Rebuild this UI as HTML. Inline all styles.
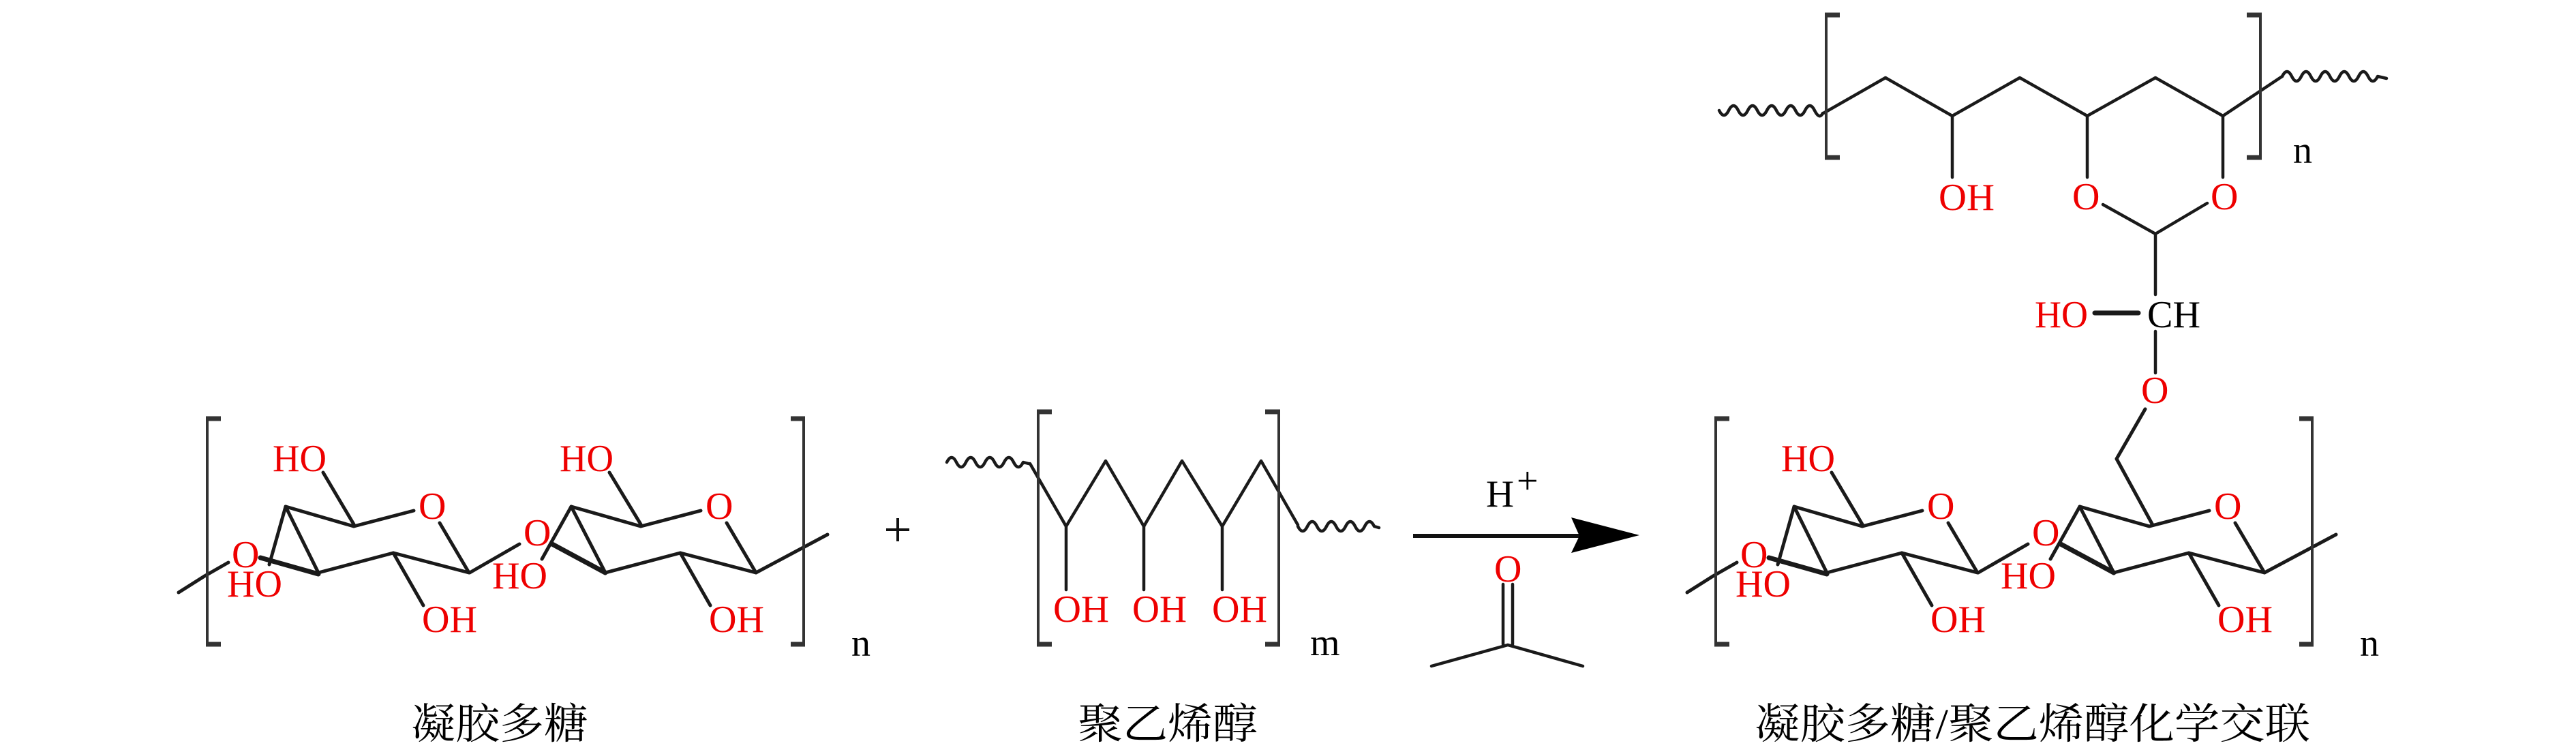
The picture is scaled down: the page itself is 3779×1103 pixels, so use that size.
<!DOCTYPE html>
<html><head><meta charset="utf-8"><style>
html,body{margin:0;padding:0;background:#fff;}
svg{display:block;}
.r{fill:#ee0000;font-family:"Liberation Serif",serif;font-size:56px;}
.k{fill:#000;font-family:"Liberation Serif",serif;font-size:56px;}
.c{fill:#000;font-family:"Liberation Serif","Noto Serif CJK SC",serif;font-size:62px;}
</style></head><body>
<svg width="3779" height="1103" viewBox="0 0 3779 1103" xmlns="http://www.w3.org/2000/svg">
<defs>
<g id="sugar">
 <g stroke="#1a1a1a" stroke-width="5" fill="none" stroke-linecap="round" stroke-linejoin="round">
  <!-- ring 1 -->
  <polyline points="419,743 519,772 607,749"/>
  <polyline points="645,767 688,840 577,811 467,840 419,743 395,828"/>
  <line x1="382" y1="818" x2="467" y2="842" stroke-width="7"/>
  <line x1="474" y1="693" x2="519" y2="769"/>
  <line x1="577" y1="811" x2="621" y2="888"/>
  <line x1="300" y1="845" x2="335" y2="825"/>
  <line x1="262" y1="869" x2="300" y2="845"/>
  <!-- glycosidic -->
  <line x1="689" y1="840" x2="762" y2="798"/>
  <!-- ring 2 -->
  <polyline points="838,743 940,772 1028,749"/>
  <polyline points="1066,767 1109,840 998,811 888,840 838,743 795,820"/>
  <line x1="810" y1="798" x2="888" y2="840" stroke-width="7"/>
  <line x1="998" y1="811" x2="1042" y2="888"/>
  <line x1="1109" y1="840" x2="1214" y2="784"/>
 </g>
 <g stroke="#333" fill="none">
  <line x1="304" y1="613" x2="304" y2="946" stroke-width="4"/>
  <line x1="302" y1="614" x2="324" y2="614" stroke-width="7"/>
  <line x1="302" y1="945" x2="324" y2="945" stroke-width="7"/>
  <line x1="1179" y1="613" x2="1179" y2="946" stroke-width="4"/>
  <line x1="1160" y1="614" x2="1181" y2="614" stroke-width="7"/>
  <line x1="1160" y1="945" x2="1181" y2="945" stroke-width="7"/>
 </g>
 <text class="r" x="400" y="691" textLength="79" lengthAdjust="spacingAndGlyphs">HO</text>
 <text class="r" x="614" y="761">O</text>
 <text class="r" x="340" y="832">O</text>
 <text class="r" x="333" y="875" textLength="81" lengthAdjust="spacingAndGlyphs">HO</text>
 <text class="r" x="619" y="927" textLength="81" lengthAdjust="spacingAndGlyphs">OH</text>
 <text class="r" x="768" y="800">O</text>
 <text class="r" x="722" y="863" textLength="81" lengthAdjust="spacingAndGlyphs">HO</text>
 <text class="r" x="1035" y="761">O</text>
 <text class="r" x="1040" y="927" textLength="81" lengthAdjust="spacingAndGlyphs">OH</text>
 <text class="k" x="1249" y="962" font-size="48">n</text>
</g>
</defs>

<!-- left: 凝胶多糖 -->
<use href="#sugar"/>
<line x1="400" y1="0" x2="400" y2="0"/>
<g stroke="#1a1a1a" stroke-width="5" fill="none" stroke-linecap="round"><line x1="894" y1="693" x2="940" y2="769"/></g>
<text class="r" x="821" y="691" textLength="79" lengthAdjust="spacingAndGlyphs">HO</text>
<text class="c" x="603" y="1083" textLength="260" lengthAdjust="spacingAndGlyphs">凝胶多糖</text>

<!-- plus -->
<g stroke="#111" stroke-width="4"><line x1="1300" y1="777" x2="1334" y2="777"/><line x1="1317" y1="760" x2="1317" y2="794"/></g>

<!-- PVA -->
<g stroke="#1a1a1a" stroke-width="4.5" fill="none" stroke-linejoin="round" stroke-linecap="round">
 <path d="M1389 678 q7 -14 14 0 t14 0 t14 0 t14 0 t14 0 t14 0 t14 0 t14 0 l8 2"/>
 <polyline points="1511,680 1564,772 1622,676 1678,772 1734,676 1793,772 1850,676 1904,770"/>
 <path d="M1904 772 q7 14 14 0 t14 0 t14 0 t14 0 t14 0 t14 0 t14 0 t14 0 l7 2"/>
 <line x1="1564" y1="772" x2="1564" y2="865"/>
 <line x1="1678" y1="772" x2="1678" y2="865"/>
 <line x1="1793" y1="772" x2="1793" y2="865"/>
</g>
<g stroke="#333" fill="none">
 <line x1="1523" y1="603" x2="1523" y2="946" stroke-width="4"/>
 <line x1="1521" y1="604" x2="1543" y2="604" stroke-width="7"/>
 <line x1="1521" y1="945" x2="1543" y2="945" stroke-width="7"/>
 <line x1="1876" y1="603" x2="1876" y2="946" stroke-width="4"/>
 <line x1="1856" y1="604" x2="1878" y2="604" stroke-width="7"/>
 <line x1="1856" y1="945" x2="1878" y2="945" stroke-width="7"/>
</g>
<text class="r" x="1545" y="912" textLength="82" lengthAdjust="spacingAndGlyphs">OH</text>
<text class="r" x="1661" y="912" textLength="80" lengthAdjust="spacingAndGlyphs">OH</text>
<text class="r" x="1778" y="912" textLength="81" lengthAdjust="spacingAndGlyphs">OH</text>
<text class="k" x="1922" y="961" font-size="50">m</text>
<text class="c" x="1581" y="1083" textLength="264" lengthAdjust="spacingAndGlyphs">聚乙烯醇</text>

<!-- arrow -->
<line x1="2073" y1="786" x2="2318" y2="786" stroke="#111" stroke-width="6"/>
<polygon points="2305,759 2405,785 2305,811 2317,786" fill="#000"/>
<text class="k" x="2180" y="743" textLength="41" lengthAdjust="spacingAndGlyphs">H</text>
<text class="k" x="2225" y="724" font-size="26">+</text>
<text class="r" x="2192" y="853">O</text>
<g stroke="#1a1a1a" stroke-width="4.5" fill="none" stroke-linecap="round">
 <line x1="2205" y1="857" x2="2205" y2="945"/>
 <line x1="2219" y1="857" x2="2219" y2="945"/>
 <polyline points="2100,977 2212,946 2322,977"/>
</g>

<!-- right: crosslinked -->
<g transform="translate(2213,0)"><use href="#sugar"/></g>
<g stroke="#1a1a1a" stroke-width="5" fill="none" stroke-linejoin="round" stroke-linecap="round">
 <polyline points="3158,770 3105,673 3147,600"/>
</g>
<text class="r" x="3141" y="591">O</text>
<!-- top PVA acetal -->
<g stroke="#1a1a1a" stroke-width="4.5" fill="none" stroke-linejoin="round" stroke-linecap="round">
 <path d="M2522 162 q7 14 14 0 t14 0 t14 0 t14 0 t14 0 t14 0 t14 0 t14 0 t14 0 t14 0 t12 4"/>
 <polyline points="2675,166 2766,114 2864,170 2963,114 3062,170 3162,114 3261,170 3348,112"/>
 <path d="M3348 112 q7 -14 14 0 t14 0 t14 0 t14 0 t14 0 t14 0 t14 0 t14 0 t14 0 t14 0 l13 3"/>
 <line x1="2864" y1="170" x2="2864" y2="260"/>
 <line x1="3062" y1="170" x2="3062" y2="260"/>
 <line x1="3261" y1="170" x2="3261" y2="260"/>
 <polyline points="3085,300 3162,343 3238,298"/>
 <line x1="3162" y1="343" x2="3162" y2="432"/>
 <line x1="3073" y1="459" x2="3137" y2="459" stroke-width="7"/>
 <line x1="3162" y1="486" x2="3162" y2="547"/>
</g>
<g stroke="#333" fill="none">
 <line x1="2679" y1="21" x2="2679" y2="232" stroke-width="4"/>
 <line x1="2677" y1="22" x2="2699" y2="22" stroke-width="7"/>
 <line x1="2677" y1="231" x2="2699" y2="231" stroke-width="7"/>
 <line x1="3316" y1="21" x2="3316" y2="232" stroke-width="4"/>
 <line x1="3296" y1="22" x2="3318" y2="22" stroke-width="7"/>
 <line x1="3296" y1="231" x2="3318" y2="231" stroke-width="7"/>
</g>
<text class="k" x="3364" y="239" font-size="48">n</text>
<text class="r" x="2844" y="308" textLength="82" lengthAdjust="spacingAndGlyphs">OH</text>
<text class="r" x="3040" y="307">O</text>
<text class="r" x="3243" y="307">O</text>
<text class="r" x="2985" y="480" textLength="78" lengthAdjust="spacingAndGlyphs">HO</text>
<text class="k" x="3150" y="480" textLength="78" lengthAdjust="spacingAndGlyphs">CH</text>
<text class="c" x="2574" y="1083" textLength="815" lengthAdjust="spacingAndGlyphs">凝胶多糖/聚乙烯醇化学交联</text>
</svg>
</body></html>
